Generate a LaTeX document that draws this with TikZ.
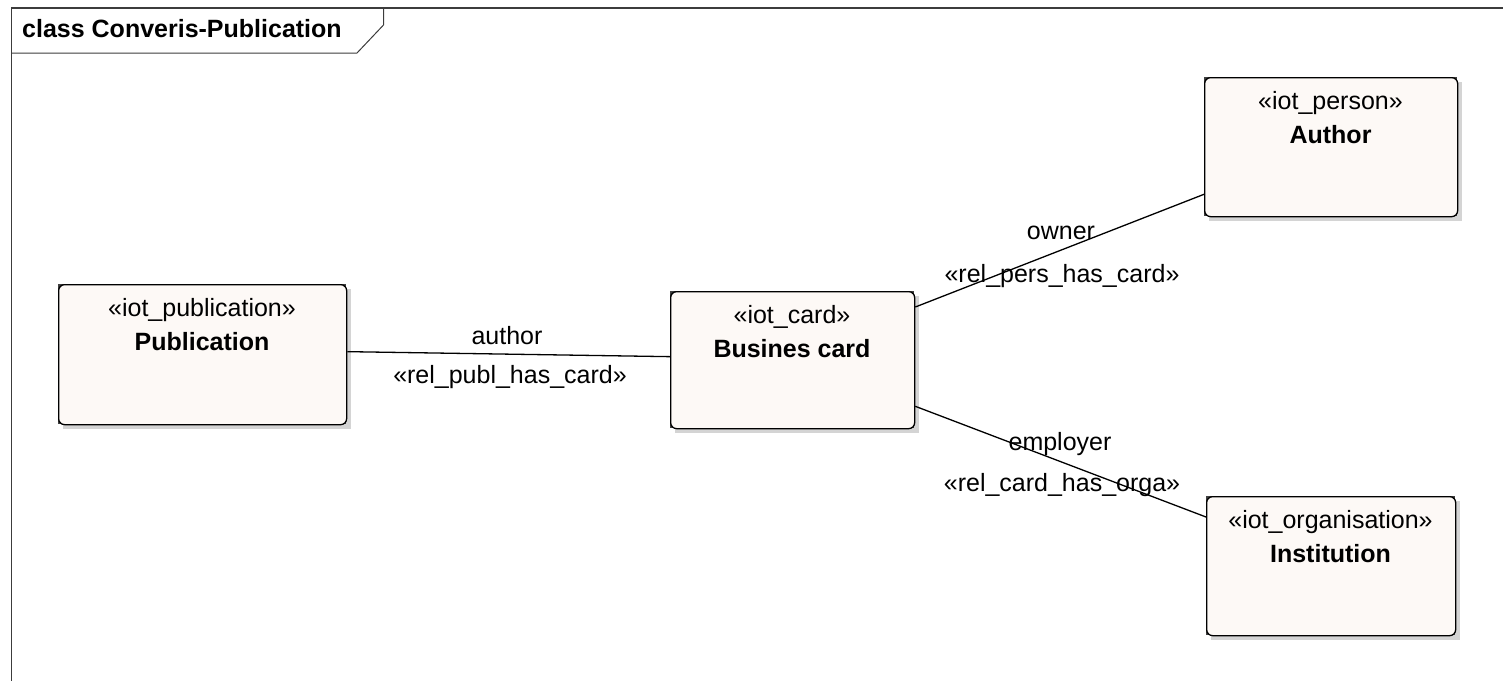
\documentclass[tikz,border=0pt]{standalone}
\usepackage{fontspec}
\setmainfont{Liberation Sans}
\definecolor{boxfill}{RGB}{253,249,246}
\definecolor{shadowgray}{RGB}{212,212,212}
\definecolor{framegray}{RGB}{60,60,60}
\tikzset{
  umltext/.style={font=\fontsize{25}{30}\selectfont, inner sep=0pt, anchor=base},
  umlname/.style={umltext, font=\fontsize{25}{30}\selectfont\bfseries},
  umlbox/.style={draw=black, fill=boxfill, rounded corners=6pt, line width=1.3pt, inner sep=0pt, anchor=north west},
  assoc/.style={draw=black, line width=1.3pt},
  framestyle/.style={draw=framegray, line width=1.3pt}
}
% #1 name, #2 x1, #3 y1, #4 x2, #5 y2, #6 stereotype, #7 title
\newcommand{\umlclassbox}[7]{%
  \fill[shadowgray] (#2+5,#3+5) rectangle (#4+5,#5+5);
  \fill[black!75] (#2,#3) rectangle (#4,#5);
  \node[umlbox, minimum width=#4pt-#2pt, minimum height=#5pt-#3pt] (#1) at (#2,#3) {};
  \node[umltext] (#1-st) at ({(#2+#4)/2},#3+32) {#6};
  \node[umlname] (#1-nm) at ({(#2+#4)/2},#3+66) {#7};
}
\begin{document}
\begin{tikzpicture}[x=1pt,y=-1pt]
\useasboundingbox (0,0) rectangle (1503,680);
% frame
\draw[framestyle] (11.5,690) -- (11.5,8) -- (1510,8);
\draw[framestyle, line width=1pt] (11.5,53) -- (357,53) -- (383.5,25) -- (383.5,8);
\node[umlname, anchor=base west] (title) at (22,37) {class Converis-Publication};
% classes
\umlclassbox{pub}{58}{284}{346}{424}{«iot\_publication»}{Publication}
\umlclassbox{card}{670}{291}{914}{428}{«iot\_card»}{Busines card}
\umlclassbox{auth}{1204}{77}{1457}{216}{«iot\_person»}{Author}
\umlclassbox{inst}{1206}{496}{1455}{635}{«iot\_organisation»}{Institution}
% associations
\draw[assoc] ([yshift=3pt]pub.east) -- ([yshift=3.5pt]card.west);
\draw[assoc] ([yshift=-16pt]card.north east) -- ([yshift=23pt]auth.south west);
\draw[assoc] ([yshift=23pt]card.south east) -- ([yshift=-21pt]inst.north west);
% labels
\node[umltext] (l1) at (507,344) {author};
\node[umltext] (l2) at (510,383) {«rel\_publ\_has\_card»};
\node[umltext] (l3) at (1061,239) {owner};
\node[umltext] (l4) at (1062,282) {«rel\_pers\_has\_card»};
\node[umltext] (l5) at (1060,450) {employer};
\node[umltext] (l6) at (1062,491) {«rel\_card\_has\_orga»};
\end{tikzpicture}
\end{document}
